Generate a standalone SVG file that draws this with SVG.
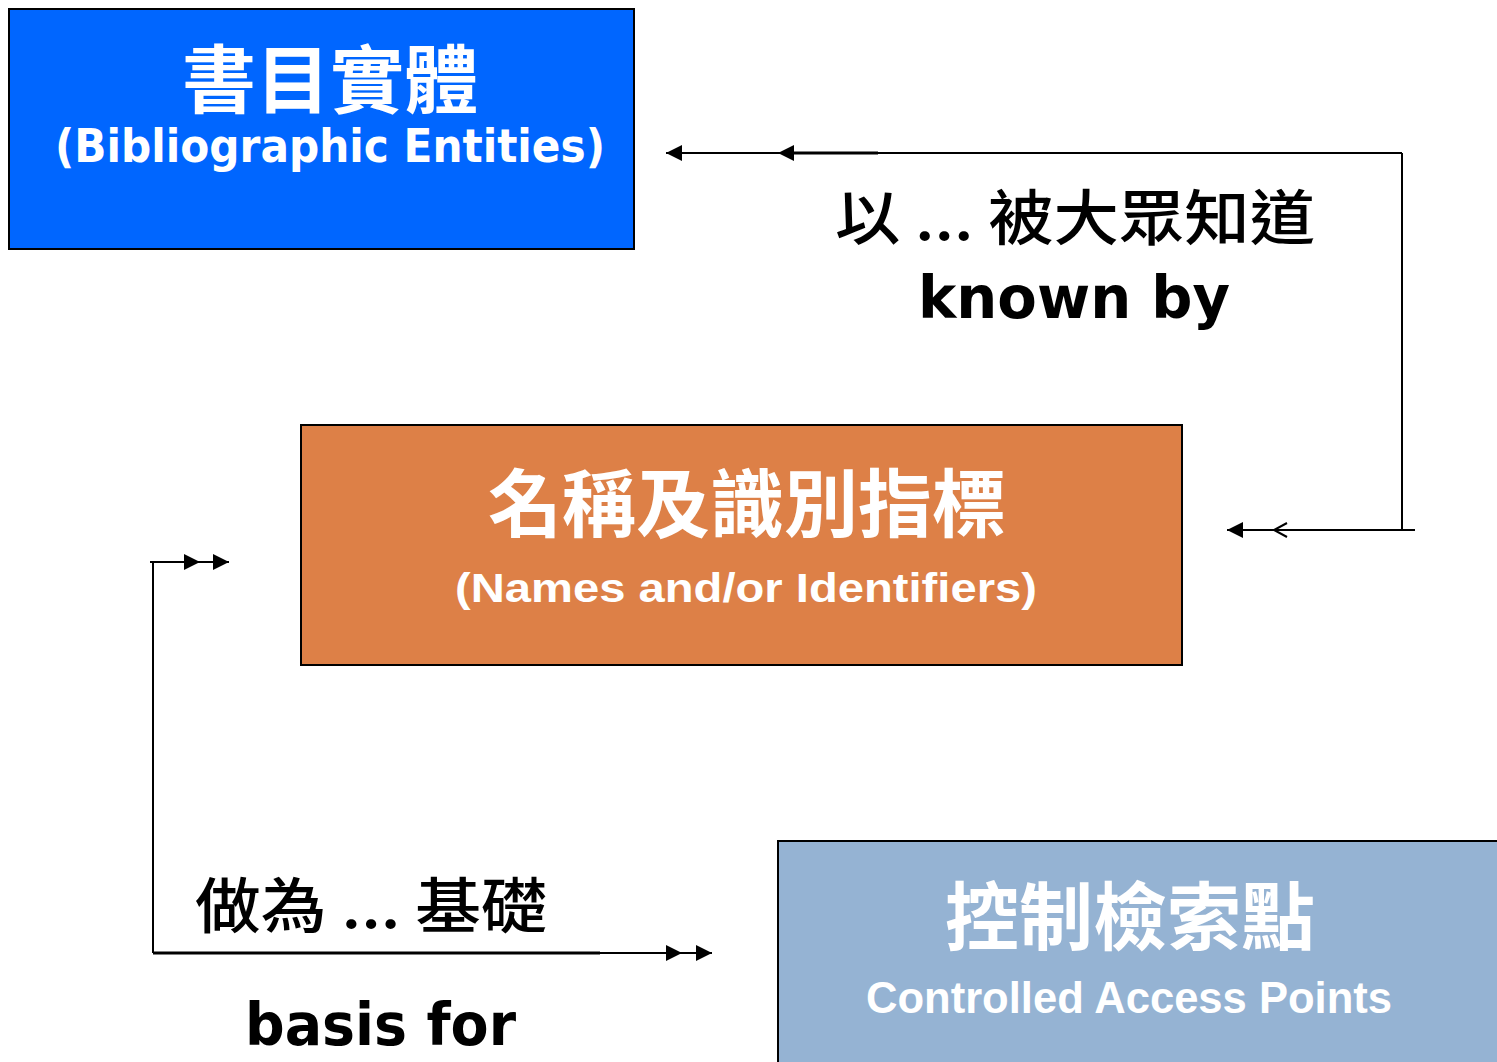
<svg xmlns="http://www.w3.org/2000/svg" width="1497" height="1062" viewBox="0 0 1497 1062">
<style>
.box{stroke:#000;stroke-width:2}
.ttl{font-family:"Noto Sans CJK TC","Noto Sans CJK SC",sans-serif;font-weight:700;fill:#fff;text-anchor:middle}
.sub{font-family:"Liberation Sans","DejaVu Sans",sans-serif;font-weight:700;fill:#fff}
.sub1{font-family:"DejaVu Sans","Liberation Sans",sans-serif;font-weight:700;fill:#fff}
.lblc{font-family:"Noto Sans CJK TC","Noto Sans CJK SC",sans-serif;font-weight:500;fill:#000}
.lble{font-family:"DejaVu Sans","Liberation Sans",sans-serif;font-weight:700;fill:#000}
.ln{stroke:#000;stroke-width:2;fill:none}
.thk{stroke:#000;stroke-width:3;fill:none}
</style>
<defs>
<marker id="tri" viewBox="0 0 16 16" refX="16" refY="8" markerWidth="16" markerHeight="16" markerUnits="userSpaceOnUse" orient="auto">
<path d="M0,0 L16,8 L0,16 z" fill="#000"/>
</marker>
</defs>
<rect width="1497" height="1062" fill="#fff"/>
<g id="bibliographic-entities">
<rect class="box" x="9" y="9" width="625" height="240" fill="#0066FF"/>
<text class="ttl" x="330" y="107" font-size="74">書目實體</text>
<text class="sub1" x="55" y="162" font-size="46" textLength="550" lengthAdjust="spacingAndGlyphs">(Bibliographic Entities)</text>
</g>
<g id="names-identifiers">
<rect class="box" x="301" y="425" width="881" height="240" fill="#DD8047"/>
<text class="ttl" x="747" y="531" font-size="74">名稱及識別指標</text>
<text class="sub" x="455" y="602" font-size="41" textLength="582" lengthAdjust="spacingAndGlyphs">(Names and/or  Identifiers)</text>
</g>
<g id="controlled-access-points">
<rect class="box" x="778" y="841" width="730" height="240" fill="#95B3D3"/>
<text class="ttl" x="1130" y="944" font-size="74">控制檢索點</text>
<text class="sub" x="866" y="1013" font-size="44" textLength="526" lengthAdjust="spacingAndGlyphs">Controlled Access Points</text>
</g>
<g id="connectors">
<path class="ln" d="M1402,153 L1402,530"/>
<path class="ln" d="M1402,153 L878,153"/>
<path class="thk" d="M878,153 L794,153"/>
<path class="ln" d="M794,153 L778,153" marker-end="url(#tri)"/>
<path class="ln" d="M778,153 L666,153" marker-end="url(#tri)"/>
<path class="ln" d="M1415,530 L1227,530" marker-end="url(#tri)"/>
<polyline class="ln" points="1287,523 1274,530 1287,537"/>
<path class="ln" d="M153,953 L153,562"/>
<path class="ln" d="M150,562 L200,562" marker-end="url(#tri)"/>
<path class="ln" d="M200,562 L229,562" marker-end="url(#tri)"/>
<path class="thk" d="M153,953 L600,953"/>
<path class="ln" d="M600,953 L682,953" marker-end="url(#tri)"/>
<path class="ln" d="M682,953 L712,953" marker-end="url(#tri)"/>
</g>
<g id="label-known-by">
<text class="lblc" x="835" y="240" font-size="60" textLength="480" lengthAdjust="spacingAndGlyphs">以 ... 被大眾知道</text>
<text class="lble" x="918" y="318" font-size="58" textLength="312" lengthAdjust="spacingAndGlyphs">known by</text>
</g>
<g id="label-basis-for">
<text class="lblc" x="195" y="928" font-size="60" textLength="352" lengthAdjust="spacingAndGlyphs">做為 ... 基礎</text>
<text class="lble" x="245" y="1045" font-size="58" textLength="271" lengthAdjust="spacingAndGlyphs">basis for</text>
</g>
</svg>
